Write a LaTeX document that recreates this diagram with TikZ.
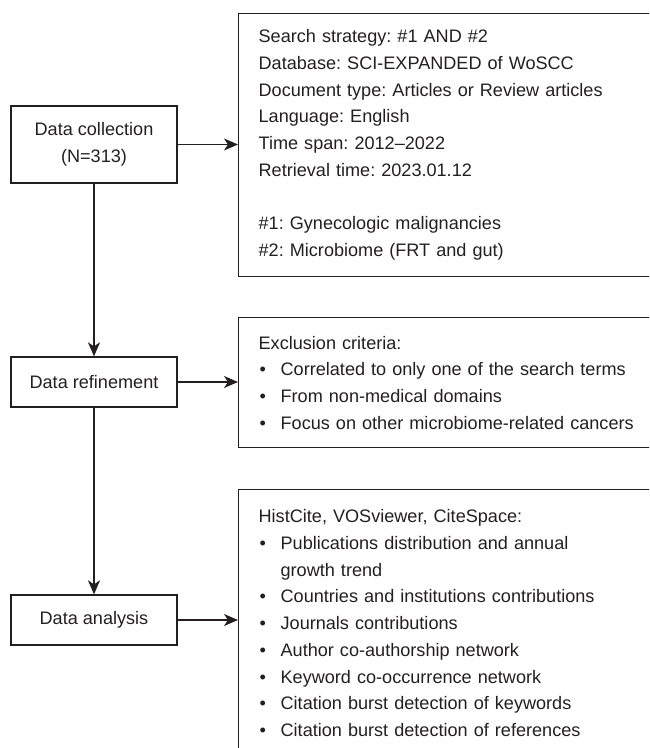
\documentclass[tikz,border=0pt]{standalone}
\usepackage{fontspec}
\setmainfont{Liberation Sans}
\usetikzlibrary{arrows.meta}
\definecolor{ink}{RGB}{35,31,32}
\newcommand{\myitem}[1]{\makebox[22pt][l]{\hspace{1pt}•}#1}
\frenchspacing
\begin{document}
\begin{tikzpicture}[x=1pt,y=-1pt,
  font=\frenchspacing\fontsize{18.1}{26.7}\selectfont,
  lbox/.style={draw=ink, line width=1.3pt, text=ink, minimum width=166pt, align=center, inner sep=0pt},
  rbox/.style={draw=ink, line width=1.3pt, text=ink, anchor=north west, text width=400pt, align=left, inner xsep=15pt, inner ysep=0pt, minimum width=440pt},
  arr/.style={draw=ink, line width=1.3pt, -{Stealth[length=14pt,width=12pt,inset=4pt]}}]
\useasboundingbox (0,0) rectangle (649,748);
\clip (0,0) rectangle (649,748);
\node[lbox, minimum height=77pt] (col) at (94,144.5) {Data collection\\(N=313)};
\node[lbox, minimum height=50pt] (ref) at (94,382) {Data refinement};
\node[lbox, minimum height=50pt] (ana) at (94,620) {Data analysis};
\node[rbox, minimum height=263.3pt] (srch) at (238,12.7) {Search strategy: \#1 AND \#2\\
Database: SCI-EXPANDED of WoSCC\\
Document type: Articles or Review articles\\
Language: English\\
Time span: 2012–2022\\
Retrieval time: 2023.01.12\\[26.7pt]
\#1: Gynecologic malignancies\\
\#2: Microbiome (FRT and gut)};
\node[rbox, minimum height=130pt] (excl) at (238,317) {Exclusion criteria:\\
\myitem{Correlated to only one of the search terms}\\
\myitem{From non-medical domains}\\
\myitem{Focus on other microbiome-related cancers}};
\node[rbox, minimum height=267pt] (tools) at (238,489) {HistCite, VOSviewer, CiteSpace:\\
\myitem{Publications distribution and annual}\\
\hspace*{22pt}growth trend\\
\myitem{Countries and institutions contributions}\\
\myitem{Journals contributions}\\
\myitem{Author co-authorship network}\\
\myitem{Keyword co-occurrence network}\\
\myitem{Citation burst detection of keywords}\\
\myitem{Citation burst detection of references}};
\draw[arr] (col.east) -- (col.east -| srch.west);
\draw[arr] (ref.east) -- (ref.east -| excl.west);
\draw[arr] (ana.east) -- (ana.east -| tools.west);
\draw[arr] (col.south) -- (ref.north);
\draw[arr] (ref.south) -- (ana.north);
\end{tikzpicture}
\end{document}
